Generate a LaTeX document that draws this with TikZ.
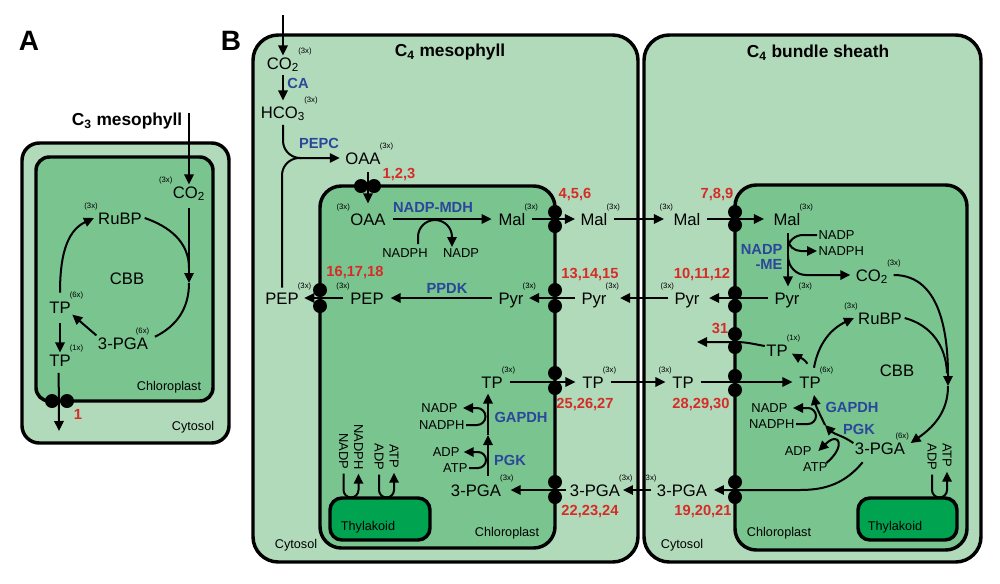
\documentclass[tikz,border=0pt]{standalone}
\usepackage{fontspec}
\setmainfont{Liberation Sans}
\usetikzlibrary{arrows.meta}
\definecolor{cytcol}{RGB}{177,218,186}
\definecolor{chlcol}{RGB}{121,196,143}
\definecolor{thycol}{RGB}{0,163,80}
\definecolor{enzblue}{RGB}{43,70,155}
\definecolor{numred}{RGB}{214,44,40}
\newcommand{\mymetfont}{\fontsize{12.5}{14}\selectfont}
\newcommand{\mysupfont}{\fontsize{5.8}{6}\selectfont}
\newcommand{\myenzfont}{\bfseries\fontsize{11}{11.3}\selectfont}
\newcommand{\mynumfont}{\bfseries\fontsize{11}{12}\selectfont}
\newcommand{\mycoffont}{\fontsize{9.7}{11}\selectfont}
\newcommand{\mylabfont}{\fontsize{9.5}{11}\selectfont}
\newcommand{\mytitfont}{\bfseries\fontsize{13}{14}\selectfont}
\newcommand{\mypanfont}{\bfseries\fontsize{21}{22}\selectfont}
\tikzset{
  met/.style={font=\mymetfont, inner sep=1pt, text height=9pt, text depth=0pt},
  sup/.style={font=\mysupfont, inner sep=0pt},
  mne/.style={label={[sup,xshift=-2pt]north east:(#1)}},
  mnw/.style={label={[sup,xshift=1pt]north west:(#1)}},
  enz/.style={font=\myenzfont, text=enzblue, inner sep=1pt},
  num/.style={font=\mynumfont, text=numred, inner sep=1pt},
  cof/.style={font=\mycoffont, inner sep=1pt},
  lab/.style={font=\mylabfont, inner sep=1pt},
  title/.style={font=\mytitfont, inner sep=1pt},
  panel/.style={font=\mypanfont, inner sep=1pt},
  ln/.style={line width=1.5pt},
  arr/.style={line width=1.5pt, -{Triangle[length=7.5pt,width=7pt]}},
  cyto/.style={draw, line width=2.6pt, fill=cytcol},
  chloro/.style={draw, line width=2.6pt, fill=chlcol},
  thy/.style={draw, line width=2.6pt, fill=thycol, rounded corners=9pt},
  tpc/.style={circle, fill=black, minimum size=10.5pt, inner sep=0pt},
}
\begin{document}
\begin{tikzpicture}[x=0.75pt,y=0.75pt]
\useasboundingbox (0,0) rectangle (1000,-583);
\fill[white] (0,0) rectangle (1000,-583);

% ================= Panel A =================
\node[panel] (labA) at (29,-41) {A};
\node[title] (titA) at (127,-121) {C\textsubscript{3} mesophyll};
\draw[cyto, rounded corners=13pt] (22,-143) rectangle (229,-443);
\draw[chloro, rounded corners=10pt] (36,-157) rectangle (213,-401);
\node[lab] (chlA) at (169,-387) {Chloroplast};
\node[lab] (cytA) at (193,-427) {Cytosol};

\node[met, mnw=3x] (co2A) at (189,-192) {CO\textsubscript{2}};
\coordinate (co2Ain) at (189,-113);
\draw[arr] (co2Ain) -- (co2A.north);
\node[met] (cbbA) at (127,-278) {CBB};
\node[met, mnw=3x] (rubpA) at (120,-218) {RuBP};
\node[met, label={[sup,xshift=-10.5pt]north east:(6x)}] (pgaA) at (123,-343) {3-PGA};
\node[met, mne=6x] (tp6A) at (60,-307) {TP};
\node[met, mne=1x] (tp1A) at (60,-360) {TP};
\coordinate (cA1) at (189,-268);
\coordinate (cA2) at (189,-283);
\draw[ln] ([xshift=1pt]rubpA.east) to[out=-19,in=90] (cA1);
\draw[arr] ([yshift=-6pt]co2A.south) -- (cA2);
\draw[ln] (cA2) to[out=-90,in=26] ([xshift=4pt,yshift=-1pt]pgaA.north east);
\draw[arr] ([yshift=5pt]tp6A.north) to[out=90,in=205] ([xshift=-2pt]rubpA.west);
\draw[arr] (pgaA.north west) -- (tp6A.south east);
\draw[arr] ([yshift=-6pt]tp6A.south) -- (tp1A.north);
\node[tpc] (tA1) at (52,-401) {};
\node[tpc] (tA2) at (67,-401) {};
\coordinate (outA) at (59,-431);
\draw[arr] ([xshift=-1pt,yshift=-4pt]tp1A.south) -- (outA);
\node[num] (nA) at (78,-414) {1};

% ================= Panel B =================
\node[panel] (labB) at (231,-41) {B};
\draw[cyto, rounded corners=19pt] (253,-35) rectangle (638,-562);
\draw[cyto, rounded corners=19pt] (644,-35) rectangle (981,-562);
\draw[chloro, rounded corners=16pt] (320,-186) rectangle (555,-548);
\draw[chloro, rounded corners=16pt] (735,-185) rectangle (967,-550);
\draw[thy] (330,-498) rectangle (430,-540);
\draw[thy] (858,-498) rectangle (957,-540);
\node[title] (titM) at (450,-52) {C\textsubscript{4} mesophyll};
\node[title] (titB) at (818,-53) {C\textsubscript{4} bundle sheath};
\node[lab] (thyM) at (368,-527) {Thylakoid};
\node[lab] (thyB) at (895,-527) {Thylakoid};
\node[lab] (chlM) at (507,-533) {Chloroplast};
\node[lab] (chlB) at (779,-533) {Chloroplast};
\node[lab] (cytM) at (296,-545) {Cytosol};
\node[lab] (cytB) at (682,-545) {Cytosol};

% --- CO2 fixation in mesophyll cytosol
\node[met, mne=3x] (co2M) at (283,-63) {CO\textsubscript{2}};
\coordinate (co2Min) at (283,-15);
\draw[arr] (co2Min) -- (co2M.north);
\node[met, mne=3x] (hco3) at (283,-112) {HCO\textsubscript{3}};
\draw[arr] ([yshift=-3pt]co2M.south) -- ([yshift=3pt]hco3.north);
\node[enz] (ca) at (298,-83) {CA};
\node[met, mne=3x] (oaaC) at (363,-158) {OAA};
\node[enz] (pepc) at (319,-143) {PEPC};
\draw[arr, rounded corners=13pt] ([yshift=-4pt]hco3.south) |- ([xshift=-3pt]oaaC.west);
\node[met, mne=3x] (pepC) at (282,-298) {PEP};
\coordinate (merge) at (301,-158);
\draw[ln, rounded corners=13pt] ([yshift=2pt]pepC.north) |- (merge);

% --- OAA import
\node[tpc] (t123a) at (361,-186) {};
\node[tpc] (t123b) at (374,-186) {};
\node[num] (n123) at (399,-175) {1,2,3};
\node[met, mnw=3x] (oaaM) at (368,-219) {OAA};
\draw[arr] ([yshift=-5pt]oaaM.north |- oaaC.south) -- ([yshift=6pt]oaaM.north);
\node[enz] (mdh) at (433,-207) {NADP-MDH};
\node[met, mne=3x] (malM) at (512,-219) {Mal};
\draw[arr] ([xshift=4pt]oaaM.east) -- ([xshift=-4pt]malM.west);
\node[cof] (nadph1) at (405,-253) {NADPH};
\node[cof] (nadp1) at (461,-253) {NADP};
\coordinate (l1a) at (418,-244);
\coordinate (l1b) at (452,-247);
\draw[arr] (l1a) -- (418,-237) arc[start angle=180,end angle=0,radius=17] -- (l1b);

% --- Mal transport
\node[tpc] (t456a) at (555,-212) {};
\node[tpc] (t456b) at (555,-226) {};
\node[num] (n456) at (575,-195) {4,5,6};
\node[met, mne=3x] (malC) at (594,-219) {Mal};
\draw[arr] ([xshift=4pt]malM.east) -- ([xshift=-3pt]malC.west);
\node[met, mnw=3x] (malB) at (687,-219) {Mal};
\draw[arr] ([xshift=4pt]malC.east) -- ([xshift=-6pt]malB.west);
\node[tpc] (t789a) at (735,-212) {};
\node[tpc] (t789b) at (735,-225) {};
\node[num] (n789) at (717,-195) {7,8,9};
\node[met, mne=3x] (malBC) at (787,-219) {Mal};
\draw[arr] ([xshift=4pt]malB.east) -- ([xshift=-6pt]malBC.west);

% --- NADP-ME
\node[cof, anchor=west] (nadp2) at (817,-235) {NADP};
\node[cof, anchor=west] (nadph2) at (817,-251) {NADPH};
\node[enz, align=right, anchor=east] (me) at (784,-257) {NADP\\-ME};
\node[met, mne=3x] (co2B) at (872,-275) {CO\textsubscript{2}};
\node[met, mne=3x] (pyrBC) at (787,-298) {Pyr};
\coordinate (meA) at (788,-233);
\draw[arr] (meA) -- ([yshift=3pt]pyrBC.north -| meA);
\draw[ln] (nadp2.west) -- (803,-235) to[out=180,in=90] (788,-249);
\draw[arr] (788,-239) to[out=-90,in=180] (801,-251) -- (nadph2.west);
\draw[arr] (788,-256) to[out=-90,in=180] (806,-275) -- ([xshift=-3pt]co2B.west);

% --- Pyr / PEP
\node[tpc] (t101112a) at (735,-293) {};
\node[tpc] (t101112b) at (735,-306) {};
\node[num] (n101112) at (702,-275) {10,11,12};
\node[met, mnw=3x] (pyrB) at (687,-298) {Pyr};
\draw[arr] ([xshift=-4pt]pyrBC.west) -- ([xshift=6pt]pyrB.east);
\node[met, mne=3x] (pyrC) at (594,-298) {Pyr};
\draw[arr] ([xshift=-4pt]pyrB.west) -- ([xshift=9pt]pyrC.east);
\node[tpc] (t131415a) at (555,-290) {};
\node[tpc] (t131415b) at (555,-306) {};
\node[num] (n131415) at (590,-275) {13,14,15};
\node[met, mne=3x] (pyrM) at (511,-298) {Pyr};
\draw[arr] ([xshift=-4pt]pyrC.west) -- ([xshift=3pt]pyrM.east);
\node[enz] (ppdk) at (447,-288) {PPDK};
\node[met, mnw=3x] (pepM) at (367,-298) {PEP};
\draw[arr] ([xshift=-4pt]pyrM.west) -- ([xshift=4pt]pepM.east);
\node[tpc] (t161718a) at (320,-290) {};
\node[tpc] (t161718b) at (320,-306) {};
\node[num] (n161718) at (355,-273) {16,17,18};
\draw[arr] ([xshift=-4pt]pepM.west) -- ([xshift=3pt]pepC.east);

% --- TP export 31
\node[tpc] (t31a) at (735,-334) {};
\node[tpc] (t31b) at (735,-347) {};
\node[num] (n31) at (720,-328) {31};
\node[met, mne=1x] (tp1B) at (777,-350) {TP};
\coordinate (out31) at (697,-342);
\draw[arr] ([yshift=3pt]tp1B.west) to[out=170,in=0] (735,-342) -- (out31);

% --- TP row
\node[met, mne=3x] (tpM) at (492,-382) {TP};
\node[tpc] (t252627a) at (555,-373) {};
\node[tpc] (t252627b) at (555,-388) {};
\node[met, mne=3x] (tpC) at (593,-382) {TP};
\draw[arr] ([xshift=4pt]tpM.east) -- ([xshift=-4pt]tpC.west);
\node[num] (n252627) at (585,-405) {25,26,27};
\node[met, mnw=3x] (tpB) at (683,-382) {TP};
\draw[arr] ([xshift=4pt]tpC.east) -- ([xshift=-4pt]tpB.west);
\node[tpc] (t282930a) at (735,-376) {};
\node[tpc] (t282930b) at (735,-390) {};
\node[num] (n282930) at (701,-405) {28,29,30};
\node[met, mne=6x] (tp6B) at (810,-382) {TP};
\draw[arr] ([xshift=4pt]tpB.east) -- ([xshift=-4pt]tp6B.west);

% --- mesophyll GAPDH / PGK
\node[met, mne=3x] (pgaM) at (476,-490) {3-PGA};
\coordinate (gm1) at (488,-476);
\coordinate (gm2) at (488,-435);
\draw[arr] (gm1) -- (gm2);
\draw[arr] (gm2) -- ([yshift=-3pt]tpM.south -| gm2);
\node[cof, anchor=east] (nadp3) at (459,-408) {NADP};
\node[cof, anchor=east] (nadph3) at (466,-425) {NADPH};
\draw[arr] (nadph3.east) -- (477,-425) arc[start angle=-90,end angle=90,radius=8.5] -- ([xshift=3pt]nadp3.east);
\node[cof, anchor=east] (adp3) at (461,-452) {ADP};
\node[cof, anchor=east] (atp3) at (469,-468) {ATP};
\draw[arr] (atp3.east) -- (478,-468) arc[start angle=-90,end angle=90,radius=8] -- ([xshift=2pt]adp3.east);
\node[enz] (gapdhM) at (521,-417) {GAPDH};
\node[enz] (pgkM) at (510,-460) {PGK};

% --- 3-PGA row
\node[tpc] (t222324a) at (555,-482) {};
\node[tpc] (t222324b) at (555,-497) {};
\node[met, mne=3x] (pgaC) at (595,-490) {3-PGA};
\draw[arr] ([xshift=-2pt]pgaC.west) -- ([xshift=6pt]pgaM.east);
\node[num] (n222324) at (590,-512) {22,23,24};
\node[met, mnw=3x] (pgaB) at (682,-490) {3-PGA};
\draw[arr] ([xshift=-3pt]pgaB.west) -- ([xshift=1pt]pgaC.east);
\node[tpc] (t192021a) at (735,-482) {};
\node[tpc] (t192021b) at (735,-497) {};
\node[num] (n192021) at (703,-512) {19,20,21};
\node[met, label={[sup,xshift=-8.5pt]north east:(6x)}] (pgaBC) at (880,-448) {3-PGA};
\draw[arr] ([xshift=-13pt,yshift=-5pt]pgaBC.south) to[out=-130,in=0] (800,-490) -- ([xshift=4pt]pgaB.east);

% --- bundle sheath CBB
\node[met, mnw=3x] (rubpB) at (880,-318) {RuBP};
\node[met] (cbbB) at (897,-370) {CBB};
\draw[arr] ([xshift=3pt,yshift=5pt]tp6B.north) to[out=80,in=205] ([xshift=-2pt]rubpB.west);
\coordinate (cb1) at (947,-373);
\coordinate (cb2) at (948,-386);
\draw[ln] ([xshift=1pt]rubpB.east) to[out=-15,in=92] (cb1);
\draw[arr] ([xshift=3pt]co2B.east) to[out=0,in=90] (cb2);
\draw[arr] (cb2) to[out=-90,in=35] ([xshift=3pt,yshift=-2pt]pgaBC.north east);
\draw[arr] ([xshift=-2pt,yshift=8pt]tp6B.north) to[out=120,in=-30] ([xshift=2pt,yshift=3pt]tp1B.south east);
\coordinate (gb) at (825,-425);
\draw[arr] ([yshift=-2pt]pgaBC.north west) to[out=145,in=-45] (gb);
\draw[arr] (gb) to[out=115,in=-80] ([xshift=3pt,yshift=-4pt]tp6B.south);
\node[cof, anchor=east] (nadp4) at (789,-408) {NADP};
\node[cof, anchor=east] (nadph4) at (796,-424) {NADPH};
\draw[arr] (nadph4.east) -- (808,-424) arc[start angle=-90,end angle=90,radius=8] -- ([xshift=3pt]nadp4.east);
\node[cof, anchor=east] (adp4) at (813,-451) {ADP};
\node[cof, anchor=east] (atp4) at (829,-467) {ATP};
\draw[arr] ([xshift=-2pt,yshift=3pt]atp4.east) .. controls (846,-447) and (840,-430) .. ([xshift=4pt]adp4.east);
\node[enz] (gapdhB) at (852,-407) {GAPDH};
\node[enz] (pgkB) at (859,-429) {PGK};

% --- thylakoid cofactor loops
\node[cof, rotate=-90, anchor=east] (nadpT) at (343.5,-471) {NADP};
\node[cof, rotate=-90, anchor=east] (nadphT) at (358.5,-471) {NADPH};
\node[cof, rotate=-90, anchor=east] (adpT) at (379,-472) {ADP};
\node[cof, rotate=-90, anchor=east] (atpT) at (394,-470) {ATP};
\draw[arr] ([yshift=-2pt]nadpT.east) -- (343.5,-490) arc[start angle=180,end angle=360,radius=7.5] -- ([yshift=-2pt]nadphT.east);
\draw[arr] ([yshift=-2pt]adpT.east) -- (379,-490) arc[start angle=180,end angle=360,radius=7.5] -- ([yshift=-2pt]atpT.east);
\node[cof, rotate=-90, anchor=east] (adpTB) at (932,-472) {ADP};
\node[cof, rotate=-90, anchor=east] (atpTB) at (947,-469) {ATP};
\draw[arr] ([yshift=-2pt]adpTB.east) -- (932,-490) arc[start angle=180,end angle=360,radius=7.5] -- ([yshift=-2pt]atpTB.east);
\end{tikzpicture}
\end{document}
